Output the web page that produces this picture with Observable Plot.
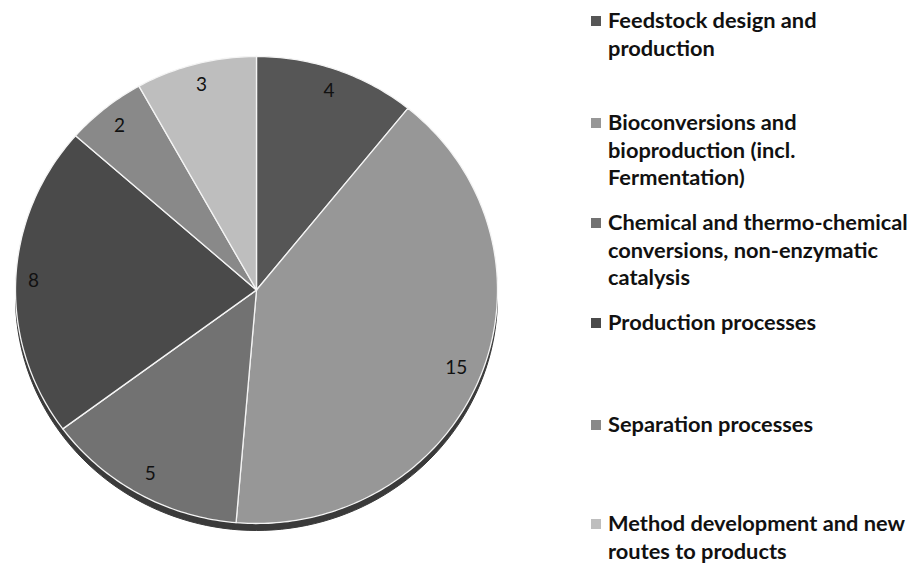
<!DOCTYPE html>
<html>
<head>
<meta charset="utf-8">
<script src="https://cdn.jsdelivr.net/npm/d3@7"></script>
<script src="https://cdn.jsdelivr.net/npm/@observablehq/plot@0.6"></script>
<style>
  html, body { margin: 0; padding: 0; background: #fff; }
  #wrap { position: relative; width: 915px; height: 567px; overflow: hidden; }
  #chart { position: absolute; left: 0; top: 0; }
  .leg { position: absolute; left: 608px; font-family: Lato, "Open Sans", sans-serif; font-weight: 700;
         font-size: 21.8px; line-height: 27.7px; color: #111; white-space: nowrap; }
  .sw { position: absolute; left: -17px; top: 10px; width: 10px; height: 10px; }
</style>
</head>
<body>
<div id="wrap"><div id="chart"></div></div>
<script>
const categories = [
  "Feedstock design and production",
  "Bioconversions and bioproduction (incl. Fermentation)",
  "Chemical and thermo-chemical conversions, non-enzymatic catalysis",
  "Production processes",
  "Separation processes",
  "Method development and new routes to products"
];
const legendLines = [
  ["Feedstock design and", "production"],
  ["Bioconversions and", "bioproduction (incl.", "Fermentation)"],
  ["Chemical and thermo-chemical", "conversions, non-enzymatic", "catalysis"],
  ["Production processes"],
  ["Separation processes"],
  ["Method development and new", "routes to products"]
];
const values = [4, 15, 5, 8, 2, 3];
const colors = ["#565656", "#979797", "#727272", "#4a4a4a", "#898989", "#bebebe"];

const data = categories.map((c, i) => ({category: c, value: values[i], color: colors[i]}));
const arcs = d3.pie().value(d => d.value).sort(null)(data);

// pixel geometry of the pie ellipse
const X0 = 15, X1 = 497, Y0 = 56, Y1 = 523;
const rx = (X1 - X0) / 2, ry = (Y1 - Y0) / 2;

const slices = arcs.map(a => {
  const n = Math.max(8, Math.ceil((a.endAngle - a.startAngle) * 60));
  const pts = [{x: 0, y: 0}];
  for (let k = 0; k <= n; k++) {
    const t = a.startAngle + (a.endAngle - a.startAngle) * k / n;
    pts.push({x: Math.sin(t), y: -Math.cos(t)});
  }
  pts.push({x: 0, y: 0});
  return {color: a.data.color, pts};
});
const full = d3.range(0, 361, 2).map(d => ({x: Math.sin(d * Math.PI / 180), y: -Math.cos(d * Math.PI / 180)}));

// "inside end" labels: pull text box in from the rim along the radius
const labels = arcs.map(a => {
  const m = (a.startAngle + a.endAngle) / 2;
  const ex = rx * Math.sin(m), ey = -ry * Math.cos(m);
  const len = Math.hypot(ex, ey);
  const ux = ex / len, uy = ey / len;
  const text = String(a.data.value);
  const w = 11 * text.length, h = 18;
  const d = 12 + Math.abs(ux) * w / 2 + Math.abs(uy) * h / 2;
  return {x: (ex - ux * d) / rx, y: (ey - uy * d) / ry, text};
});

const plot = Plot.plot({
  width: 915,
  height: 567,
  margin: 0,
  x: {domain: [-1, 1], range: [X0, X1], axis: null},
  y: {domain: [-1, 1], range: [Y0, Y1], axis: null},
  marks: [
    Plot.line(full, {x: "x", y: "y", fill: "#3a3a3a", stroke: "#3a3a3a", strokeWidth: 1, dy: 7}),
    ...slices.map(s => Plot.line(s.pts, {x: "x", y: "y", fill: s.color, stroke: "#f4f4f4", strokeWidth: 1.3, strokeLinejoin: "round"})),
    Plot.text(labels, {x: "x", y: "y", text: "text", fontSize: 19, fill: "#111", fontFamily: "Lato, 'Open Sans', sans-serif"})
  ]
});
document.getElementById("chart").appendChild(plot);

const tops = [6, 108, 208, 308, 410, 509];
const wrap = document.getElementById("wrap");
legendLines.forEach((lines, i) => {
  const div = document.createElement("div");
  div.className = "leg";
  div.style.top = tops[i] + "px";
  div.innerHTML = lines.join("<br>");
  const sw = document.createElement("span");
  sw.className = "sw";
  sw.style.background = colors[i];
  div.appendChild(sw);
  wrap.appendChild(div);
});
</script>
</body>
</html>
